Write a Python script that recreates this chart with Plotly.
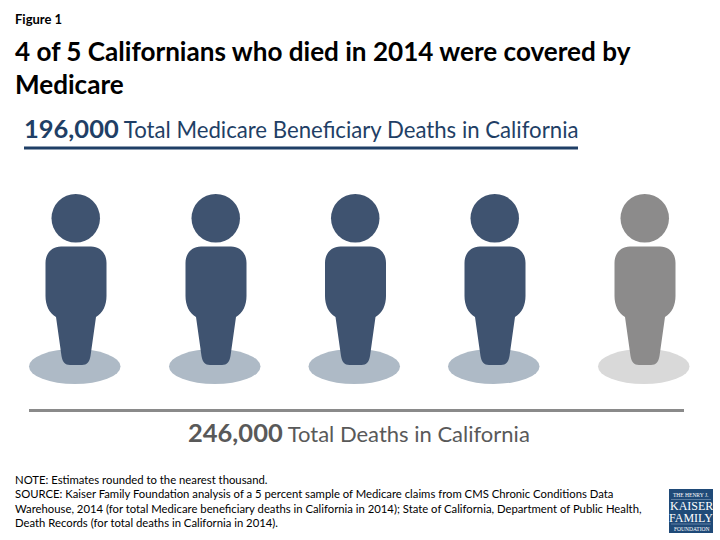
import plotly.graph_objects as go

# Values and text
covered_people = 4
total_people = 5
medicare_deaths = '196,000'
total_deaths = '246,000'
medicare_label = 'Total Medicare Beneficiary Deaths in California'
total_label = 'Total Deaths in California'
figure_label = 'Figure 1'
title_lines = ['4 of 5 Californians who died in 2014 were covered by', 'Medicare']
note_lines = [
    'NOTE: Estimates rounded to the nearest thousand.',
    'SOURCE: Kaiser Family Foundation analysis of a 5 percent sample of Medicare claims from CMS Chronic Conditions Data',
    'Warehouse, 2014 (for total Medicare beneficiary deaths in California in 2014); State of California, Department of Public Health,',
    'Death Records (for total deaths in California in 2014).',
]
logo_lines = ['THE HENRY J.', 'KAISER', 'FAMILY', 'FOUNDATION']

# Colours
BLUE = '#3f5370'
BLUE_SHADOW = '#aebac6'
GRAY = '#8c8b8b'
GRAY_SHADOW = '#d9d9d9'
NAVY = '#1f3f66'
DARK_GRAY = '#595959'
LOGO = '#1f4a78'

FONT = 'Lato'
person_x = [76, 216, 355.5, 495, 645]

fig = go.Figure()
shapes = []


def body_path(c):
    # outline of one figure around its centre line
    def p(dx, y):
        return f'{c + dx:.1f},{y}'
    return (
        f'M{p(-15, 246.5)} L{p(15, 246.5)} '
        f'C{p(24, 246.5)} {p(30.5, 253)} {p(30.5, 263)} '
        f'L{p(30.5, 296)} '
        f'C{p(30.5, 305)} {p(27, 313)} {p(20, 317)} '
        f'L{p(14.5, 356)} '
        f'C{p(13.5, 362)} {p(11, 365)} {p(6, 365)} '
        f'L{p(-6, 365)} '
        f'C{p(-11, 365)} {p(-13.5, 362)} {p(-14.5, 356)} '
        f'L{p(-20, 317)} '
        f'C{p(-27, 313)} {p(-30.5, 305)} {p(-30.5, 296)} '
        f'L{p(-30.5, 263)} '
        f'C{p(-30.5, 253)} {p(-24, 246.5)} {p(-15, 246.5)} Z'
    )


for i in range(total_people):
    c = person_x[i]
    covered = i < covered_people
    main = BLUE if covered else GRAY
    shadow = BLUE_SHADOW if covered else GRAY_SHADOW
    shapes.append(dict(type='circle', x0=c - 47, x1=c + 44.5, y0=349, y1=384,
                       fillcolor=shadow, line_width=0))
    shapes.append(dict(type='path', path=body_path(c), fillcolor=main, line_width=0))
    shapes.append(dict(type='circle', x0=c - 24.5, x1=c + 24, y0=194, y1=242.5,
                       fillcolor=main, line_width=0))

# rules above and below the figures
shapes.append(dict(type='line', x0=24, x1=578, y0=148, y1=148, line=dict(color=NAVY, width=3)))
shapes.append(dict(type='line', x0=29, x1=684, y0=410.5, y1=410.5, line=dict(color='#8a8a8a', width=3)))
# logo box and its two hairlines
shapes.append(dict(type='rect', x0=669, x1=713, y0=489, y1=533, fillcolor=LOGO, line_width=0))
shapes.append(dict(type='line', x0=671, x1=711, y0=499.5, y1=499.5, line=dict(color='#9db3cc', width=0.5)))
shapes.append(dict(type='line', x0=671, x1=711, y0=524, y1=524, line=dict(color='#9db3cc', width=0.5)))


def add_text(x, y, text, size, color='black', family=FONT, anchor='left'):
    fig.add_annotation(x=x, y=y, text=text, showarrow=False, xanchor=anchor, yanchor='middle',
                       align=anchor, font=dict(family=family, size=size, color=color))


add_text(13, 19, f'<b>{figure_label}</b>', 13)
add_text(13, 51, f'<b>{title_lines[0]}</b>', 26.1)
add_text(13, 84, f'<b>{title_lines[1]}</b>', 26.1)
add_text(22, 128, f'<b style="font-size:25.5px">{medicare_deaths}</b> {medicare_label}', 22.2, NAVY)
add_text(359, 432, f'<b style="font-size:25.5px">{total_deaths}</b> {total_label}', 22, DARK_GRAY, anchor='center')

for y, line in zip([479, 493.5, 508, 522], note_lines):
    add_text(13, y, line, 11.3)

add_text(691, 495, logo_lines[0], 5.5, 'white', 'Liberation Serif', 'center')
add_text(691, 506, logo_lines[1], 12, 'white', 'Liberation Serif', 'center')
add_text(691, 517.5, logo_lines[2], 12, 'white', 'Liberation Serif', 'center')
add_text(691, 528.5, logo_lines[3], 5.5, 'white', 'Liberation Serif', 'center')

fig.update_layout(
    width=720, height=540,
    margin=dict(l=0, r=0, t=0, b=0),
    paper_bgcolor='white', plot_bgcolor='white',
    showlegend=False,
    shapes=shapes,
    xaxis=dict(range=[0, 720], visible=False, fixedrange=True),
    yaxis=dict(range=[540, 0], visible=False, fixedrange=True),
)
fig.write_html('out.html', config=dict(displayModeBar=False),
               post_script="document.body.style.margin='0';document.documentElement.style.overflow='hidden';")
